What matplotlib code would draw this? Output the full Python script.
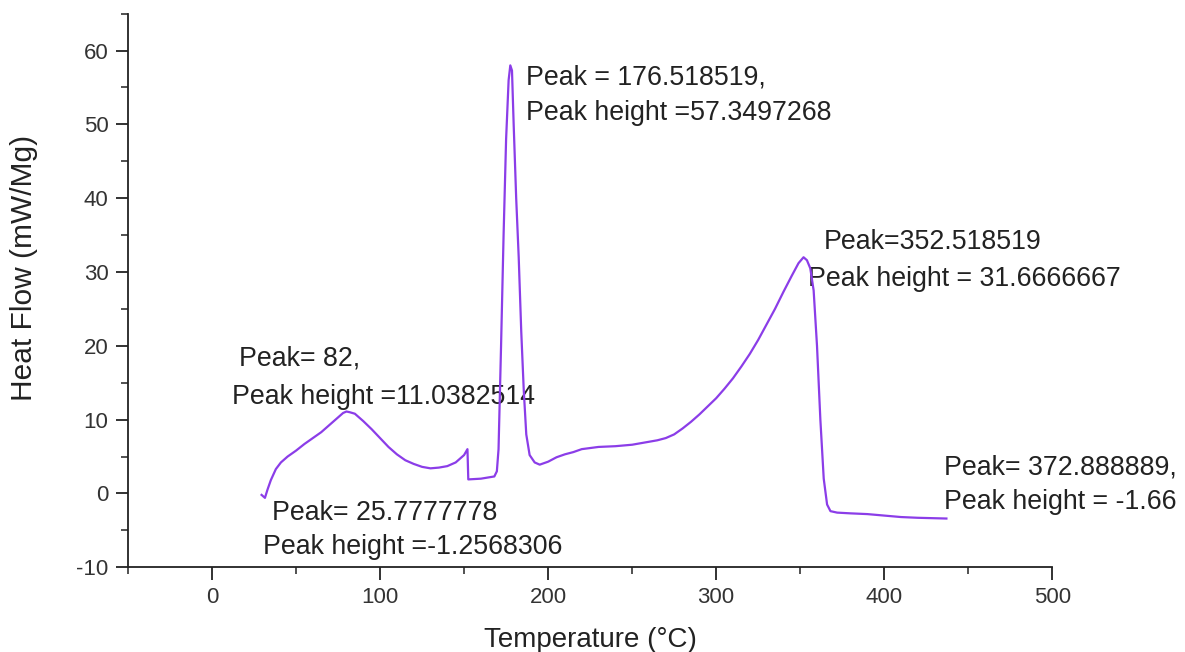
import matplotlib
matplotlib.use("Agg")
import matplotlib.pyplot as plt
from matplotlib.ticker import MultipleLocator

plt.rcParams.update({
    "font.family": ["Liberation Sans", "DejaVu Sans"],
    "axes.unicode_minus": False,
    "axes.linewidth": 1.3,
    "xtick.major.width": 1.3,
    "ytick.major.width": 1.3,
    "xtick.minor.width": 1.1,
    "ytick.minor.width": 1.1,
})

# DSC trace
temperature = [29.5, 31.5, 33, 35, 38, 41, 45, 50, 55, 60, 65, 70, 75, 78, 80, 82,
               85, 90, 95, 100, 105, 110, 115, 120, 125, 130, 135, 140, 145, 150,
               152, 152.5, 160, 168, 169.5, 170.5, 172, 173.5, 175, 176.5, 177.5,
               178.5, 179.5, 181, 182.5, 184, 185.5, 187, 189, 192, 195, 200, 205,
               210, 215, 220, 230, 240, 250, 260, 265, 270, 275, 280, 285, 290,
               295, 300, 305, 310, 315, 320, 325, 330, 335, 340, 345, 349, 352,
               354, 356, 358, 360, 362, 364, 366, 368, 372, 380, 390, 400, 410,
               420, 437]
heat_flow = [-0.2, -0.6, 0.5, 1.8, 3.3, 4.2, 5.0, 5.8, 6.7, 7.5, 8.3, 9.3, 10.3,
             10.9, 11.1, 11.0, 10.8, 9.8, 8.7, 7.5, 6.3, 5.3, 4.5, 4.0, 3.6, 3.4,
             3.5, 3.7, 4.2, 5.2, 6.0, 1.9, 2.0, 2.3, 3.0, 6.0, 20.0, 35.0, 48.0,
             56.0, 58.0, 57.3, 50.0, 40.0, 32.0, 22.0, 14.0, 8.0, 5.2, 4.2, 3.9,
             4.3, 4.9, 5.3, 5.6, 6.0, 6.3, 6.4, 6.6, 7.0, 7.2, 7.5, 8.0, 8.8, 9.7,
             10.7, 11.8, 12.9, 14.2, 15.6, 17.2, 18.9, 20.8, 22.9, 25.0, 27.3,
             29.5, 31.2, 32.0, 31.6, 30.5, 27.5, 20.0, 10.0, 2.0, -1.5, -2.4,
             -2.6, -2.7, -2.8, -3.0, -3.2, -3.3, -3.4]

# annotation lines: (text, x, y) in data units, left aligned
labels = [
    ("Peak= 82,", 16.0, 18.3),
    ("Peak height =11.0382514", 11.9, 13.0),
    ("Peak = 176.518519,", 186.6, 56.4),
    ("Peak height =57.3497268", 186.6, 51.6),
    ("Peak=352.518519", 364.2, 34.0),
    ("Peak height = 31.6666667", 354.7, 29.1),
    ("Peak= 25.7777778", 35.7, -2.7),
    ("Peak height =-1.2568306", 30.3, -7.2),
    ("Peak= 372.888889,", 435.5, 3.5),
    ("Peak height = -1.66", 435.5, -1.2),
]

fig = plt.figure(figsize=(11.85, 6.52), dpi=100)
ax = fig.add_axes([0.108, 0.130, 0.780, 0.849])

ax.plot(temperature, heat_flow, color="#8b3de8", linewidth=1.6, zorder=3)

for txt, x, y in labels:
    ax.text(x, y, txt, fontsize=19.3, color="#222222", ha="left", va="center",
            zorder=2, clip_on=False)

ax.set_xlim(-50, 500)
ax.set_ylim(-10, 65)
ax.xaxis.set_major_locator(MultipleLocator(100))
ax.xaxis.set_minor_locator(MultipleLocator(50))
ax.yaxis.set_major_locator(MultipleLocator(10))
ax.yaxis.set_minor_locator(MultipleLocator(5))
ax.tick_params(which="major", direction="out", length=9, labelsize=16,
               colors="#222222", labelcolor="#333333", pad=5)
ax.tick_params(which="minor", direction="out", length=5, colors="#222222")

for side in ("top", "right"):
    ax.spines[side].set_visible(False)
for side in ("left", "bottom"):
    ax.spines[side].set_color("#222222")

ax.set_xlabel("Temperature (°C)", fontsize=20, color="#222222", labelpad=14)
ax.set_ylabel("Heat Flow (mW/Mg)", fontsize=21.5, color="#222222")
ax.yaxis.set_label_coords(-0.097, 0.54)

fig.savefig("out.png", dpi=100)
